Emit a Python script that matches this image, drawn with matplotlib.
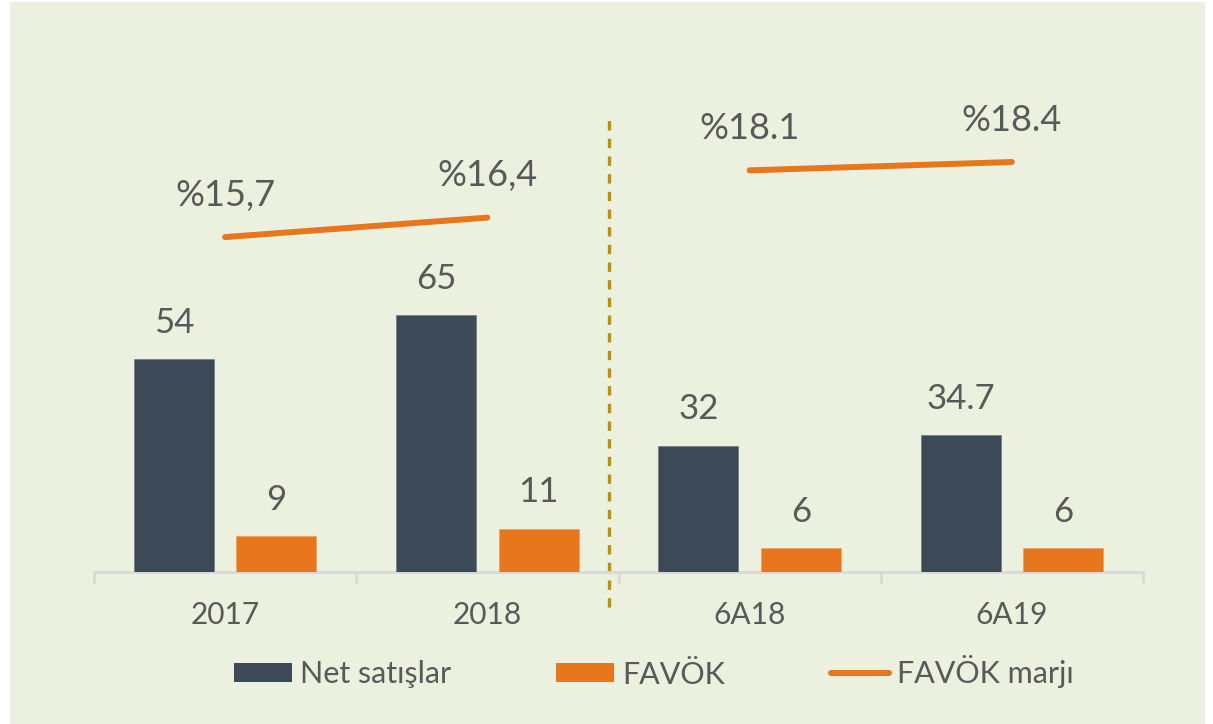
import matplotlib
matplotlib.use("Agg")
import matplotlib.pyplot as plt
from matplotlib.patches import Patch, Rectangle
from matplotlib.lines import Line2D
import numpy as np

# data
categories = ['2017', '2018', '6A18', '6A19']
net_sales = [54, 65, 32, 34.7]
favok = [9, 11, 6, 6]
margin = [15.7, 16.4, 18.1, 18.4]
net_labels = ['54', '65', '32', '34.7']
favok_labels = ['9', '11', '6', '6']
margin_labels = ['%15,7', '%16,4', '%18.1', '%18.4']
legend_labels = ['Net satışlar', 'FAVÖK', 'FAVÖK marjı']

DARK = '#3C4A58'
ORANGE = '#E8761C'
TEXT = '#595959'
BG = '#EBF0DF'
AXIS = '#D9D9D9'

plt.rcParams['font.family'] = ['Lato', 'DejaVu Sans']

fig = plt.figure(figsize=(12.13, 7.24), dpi=100, facecolor='white')
fig.patches.append(Rectangle((10 / 1213, 0), 1195 / 1213, 722 / 724,
                             transform=fig.transFigure, facecolor=BG,
                             edgecolor='none', zorder=-10))

ax = fig.add_axes([94 / 1213, 152 / 724, 1049 / 1213, 532 / 724])
ax.set_facecolor('none')

x = np.arange(len(categories))
w = 0.305
off = 0.195
b1 = ax.bar(x - off, net_sales, w, color=DARK, edgecolor='#6E7C88',
            linewidth=0.5, zorder=3)
b2 = ax.bar(x + off, favok, w, color=ORANGE, edgecolor='#F0A060',
            linewidth=0.5, zorder=3)

for rect, lab in zip(b1, net_labels):
    ax.annotate(lab, (rect.get_x() + rect.get_width() / 2, rect.get_height()),
                xytext=(0, 26), textcoords='offset points', ha='center',
                va='center', fontsize=25, color=TEXT)
for rect, lab in zip(b2, favok_labels):
    ax.annotate(lab, (rect.get_x() + rect.get_width() / 2, rect.get_height()),
                xytext=(0, 26), textcoords='offset points', ha='center',
                va='center', fontsize=25, color=TEXT)

ax.set_xlim(-0.5, len(categories) - 0.5)
ax.set_ylim(0, 532 / 3.95)

for s in ['top', 'right', 'left']:
    ax.spines[s].set_visible(False)
ax.spines['bottom'].set_color(AXIS)
ax.spines['bottom'].set_linewidth(2)
ax.set_yticks([])
ax.set_xticks(x)
ax.set_xticklabels(categories, fontsize=21.5, color=TEXT)
ax.tick_params(axis='x', which='major', length=0, pad=21)
ax.set_xticks(np.arange(len(categories) + 1) - 0.5, minor=True)
ax.tick_params(axis='x', which='minor', length=8, width=2, color=AXIS)

# separator between annual and half-year periods
ax.axvline(1.4634, ymin=-0.066, ymax=0.863, color='#C09000', lw=2.4,
           dashes=(2.8, 2.5), clip_on=False, zorder=2)

# margin line on secondary scale, one segment per period
ax2 = ax.twinx()
ax2.set_ylim(3.65, 22.79)
ax2.axis('off')
for seg in (slice(0, 2), slice(2, 4)):
    ax2.plot(x[seg], margin[seg], color=ORANGE, lw=4.3,
             solid_capstyle='round', zorder=4)
for xi, m, lab in zip(x, margin, margin_labels):
    ax2.annotate(lab, (xi, m), xytext=(0, 30), textcoords='offset points',
                 ha='center', va='center', fontsize=26, color=TEXT)

handles = [Patch(facecolor=DARK), Patch(facecolor=ORANGE),
           Line2D([], [], color=ORANGE, lw=4.3, solid_capstyle='round')]
fig.legend(handles, legend_labels, loc='center', ncol=3,
           bbox_to_anchor=(653.5 / 1213, 52 / 724), frameon=False,
           fontsize=22, labelcolor=TEXT, handlelength=1.9,
           handleheight=0.59, handletextpad=0.26, columnspacing=3.45,
           borderpad=0)

fig.savefig('out.png', dpi=100, facecolor='white')
